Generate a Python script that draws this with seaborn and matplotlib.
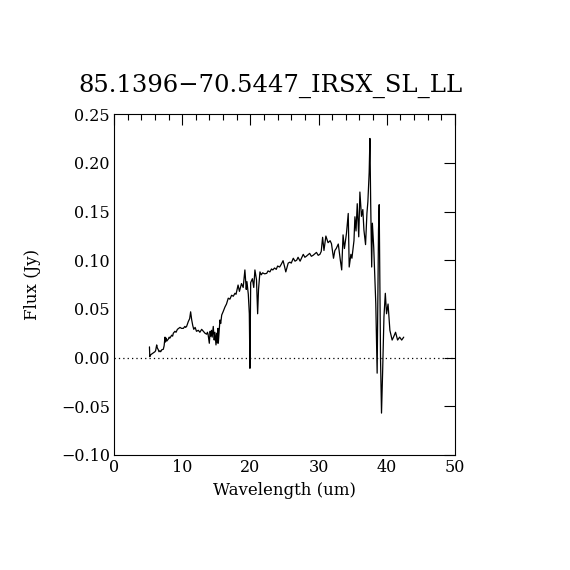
import matplotlib
matplotlib.use('Agg')
import matplotlib.pyplot as plt
import seaborn as sns
import pandas as pd
from matplotlib.ticker import MultipleLocator

# Spectrum
wavelength = [5.2, 5.25, 5.4, 5.6, 5.8, 6.0, 6.1, 6.26, 6.35, 6.5, 6.6, 6.74, 6.85, 7.0,
              7.23, 7.35, 7.48, 7.55, 7.65, 7.75, 7.97, 8.1, 8.2, 8.46, 8.6, 8.7, 8.94,
              9.1, 9.3, 9.5, 9.68, 9.9, 10.17, 10.4, 10.5, 10.65, 10.9, 11.1, 11.24, 11.4,
              11.55, 11.7, 11.9, 12.1, 12.37, 12.6, 12.86, 13.1, 13.35, 13.6, 13.7, 13.8,
              13.98, 14.1, 14.2, 14.3, 14.4, 14.56, 14.7, 14.8, 14.96, 15.05, 15.15, 15.25,
              15.3, 15.54, 15.65, 15.8, 16.0, 16.28, 16.5, 16.76, 17.0, 17.25, 17.5, 17.74,
              17.9, 18.2, 18.4, 18.7, 18.95, 19.2, 19.4, 19.5, 19.7, 19.85, 19.94, 20.05,
              20.3, 20.5, 20.67, 20.9, 21.07, 21.2, 21.41, 21.6, 21.8, 22.1, 22.4, 22.6,
              22.87, 23.1, 23.3, 23.55, 23.8, 24.0, 24.3, 24.55, 24.8, 25.0, 25.2, 25.55,
              25.8, 26.0, 26.3, 26.55, 26.8, 27.0, 27.3, 27.76, 28.0, 28.2, 28.7, 28.95,
              29.2, 29.7, 29.95, 30.2, 30.4, 30.6, 30.8, 31.08, 31.4, 31.7, 31.9, 32.2,
              32.4, 32.6, 32.9, 33.2, 33.4, 33.6, 33.8, 34.1, 34.36, 34.5, 34.75, 34.9,
              35.2, 35.34, 35.5, 35.68, 35.9, 36.07, 36.3, 36.5, 36.66, 36.9, 37.1, 37.24,
              37.43, 37.54, 37.65, 37.8, 37.9, 38.1, 38.4, 38.6, 38.8, 38.9, 39.1, 39.24,
              39.4, 39.6, 39.8, 39.98, 40.2, 40.47, 40.8, 41.0, 41.3, 41.6, 41.9, 42.2, 42.5]
flux = [0.011, 0.001, 0.003, 0.004, 0.005, 0.006, 0.007, 0.013, 0.010, 0.008, 0.006, 0.007,
        0.006, 0.008, 0.0085, 0.012, 0.021, 0.016, 0.020, 0.017, 0.019, 0.021, 0.020, 0.023,
        0.022, 0.025, 0.027, 0.026, 0.029, 0.030, 0.031, 0.030, 0.030, 0.032, 0.031, 0.032,
        0.037, 0.040, 0.047, 0.0386, 0.033, 0.029, 0.031, 0.027, 0.028, 0.026, 0.029, 0.027,
        0.025, 0.024, 0.026, 0.024, 0.0147, 0.027, 0.022, 0.028, 0.021, 0.032, 0.018, 0.026,
        0.013, 0.025, 0.015, 0.030, 0.0147, 0.0386, 0.035, 0.0437, 0.047, 0.052, 0.055,
        0.061, 0.060, 0.064, 0.063, 0.066, 0.065, 0.0745, 0.068, 0.076, 0.072, 0.090, 0.070,
        0.078, 0.065, 0.045, -0.011, 0.077, 0.081, 0.072, 0.090, 0.080, 0.045, 0.070, 0.088,
        0.085, 0.087, 0.086, 0.0865, 0.089, 0.088, 0.091, 0.090, 0.092, 0.0906, 0.094, 0.093,
        0.096, 0.0995, 0.094, 0.088, 0.097, 0.098, 0.097, 0.102, 0.099, 0.100, 0.103, 0.099,
        0.106, 0.103, 0.104, 0.107, 0.104, 0.105, 0.108, 0.105, 0.106, 0.109, 0.1235, 0.110,
        0.1248, 0.118, 0.120, 0.117, 0.102, 0.110, 0.112, 0.1166, 0.100, 0.090, 0.126, 0.112,
        0.1275, 0.148, 0.093, 0.106, 0.102, 0.120, 0.1446, 0.130, 0.158, 0.124, 0.170, 0.145,
        0.152, 0.131, 0.116, 0.148, 0.160, 0.190, 0.225, 0.160, 0.093, 0.138, 0.113, 0.0557,
        -0.016, 0.131, 0.157, -0.0025, -0.057, -0.016, 0.042, 0.066, 0.045, 0.055, 0.028,
        0.018, 0.021, 0.026, 0.018, 0.021, 0.018, 0.021]

title = '85.1396\u221270.5447_IRSX_SL_LL'

sns.set_style('white')
plt.rcParams['font.family'] = ['DejaVu Serif']
plt.rcParams['text.color'] = 'black'
plt.rcParams['axes.labelcolor'] = 'black'

df = pd.DataFrame({'Wavelength': wavelength, 'Flux': flux})

fig = plt.figure(figsize=(5.7, 5.7), dpi=100)
ax = fig.add_axes([0.2, 0.2018, 0.598, 0.598])

sns.lineplot(data=df, x='Wavelength', y='Flux', sort=False, estimator=None,
             color='black', linewidth=0.9, ax=ax)
ax.axhline(0, color='black', linestyle=(0, (1, 2.5)), linewidth=0.9)

ax.set_xlim(0, 50)
ax.set_ylim(-0.10, 0.25)
ax.xaxis.set_major_locator(MultipleLocator(10))
ax.xaxis.set_minor_locator(MultipleLocator(2))
ax.set_yticks([-0.10, -0.05, 0.0, 0.05, 0.10, 0.15, 0.20, 0.25])
ax.set_yticklabels(['\u22120.10', '\u22120.05', '0.00', '0.05', '0.10', '0.15', '0.20', '0.25'])
ax.tick_params(which='both', direction='in', top=True, right=True, colors='black',
               labelcolor='black', labelsize=11.5, width=0.8)
ax.tick_params(which='major', length=8, pad=3)
ax.tick_params(which='minor', length=4)
for s in ax.spines.values():
    s.set_color('black')
    s.set_linewidth(0.8)

ax.set_xlabel('Wavelength (um)', fontsize=12, color='black')
ax.set_ylabel('Flux (Jy)', fontsize=12, color='black', labelpad=14)
ax.set_title(title, fontsize=17.5, pad=16, x=0.46, color='black')

fig.savefig('out.png', dpi=100, facecolor='white')
